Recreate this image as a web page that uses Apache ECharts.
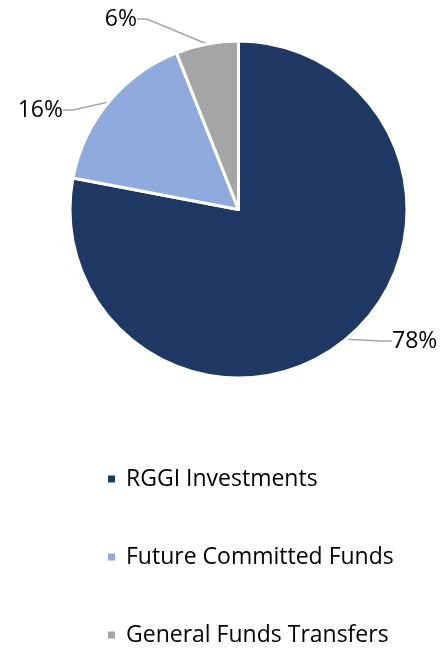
<!DOCTYPE html>
<html>
<head>
<meta charset="utf-8">
<script src="https://cdn.jsdelivr.net/npm/echarts@6/dist/echarts.min.js"></script>
<style>
  html, body { margin: 0; padding: 0; background: #fff; }
  #chart { width: 444px; height: 648px; }
</style>
</head>
<body>
<div id="chart"></div>
<script>
// slice names, shares (%) and colours
var names = ['RGGI Investments', 'Future Committed Funds', 'General Funds Transfers'];
var shares = [78, 16, 6];
var colors = ['#203864', '#8faadc', '#a5a5a5'];

// where each percentage label sits (anchor point and alignment)
var labelSpots = [
    { x: 392, y: 341, align: 'left' },
    { x: 63, y: 110, align: 'right' },
    { x: 137, y: 19, align: 'right' }
];

var data = [];
for (var i = 0; i < names.length; i++) {
    data.push({ name: names[i], value: shares[i], itemStyle: { color: colors[i] } });
}

var myChart = echarts.init(document.getElementById('chart'));
myChart.setOption({
    animation: false,
    textStyle: { fontFamily: 'Open Sans' },
    legend: {
        orient: 'vertical',
        left: 106,
        top: 466,
        bottom: 0,
        padding: 0,
        itemWidth: 9,
        itemHeight: 9,
        itemGap: 52,
        icon: 'rect',
        textStyle: { fontSize: 23, color: '#000', lineHeight: 26, padding: [0, 0, 0, 5] },
        data: names
    },
    series: [{
        type: 'pie',
        center: [238.5, 209.5],
        radius: [0, 168.5],
        startAngle: 90,
        clockwise: true,
        itemStyle: { borderColor: '#fff', borderWidth: 3 },
        label: {
            show: true,
            position: 'outside',
            formatter: '{c}%',
            fontSize: 23,
            color: '#000'
        },
        labelLine: {
            show: true,
            length: 22,
            length2: 10,
            lineStyle: { color: '#a6a6a6', width: 1.5 }
        },
        labelLayout: function (params) {
            var s = labelSpots[params.dataIndex];
            return { x: s.x, y: s.y, align: s.align, verticalAlign: 'middle' };
        },
        emphasis: { disabled: true },
        data: data
    }]
});
window.onresize = myChart.resize;
</script>
</body>
</html>
